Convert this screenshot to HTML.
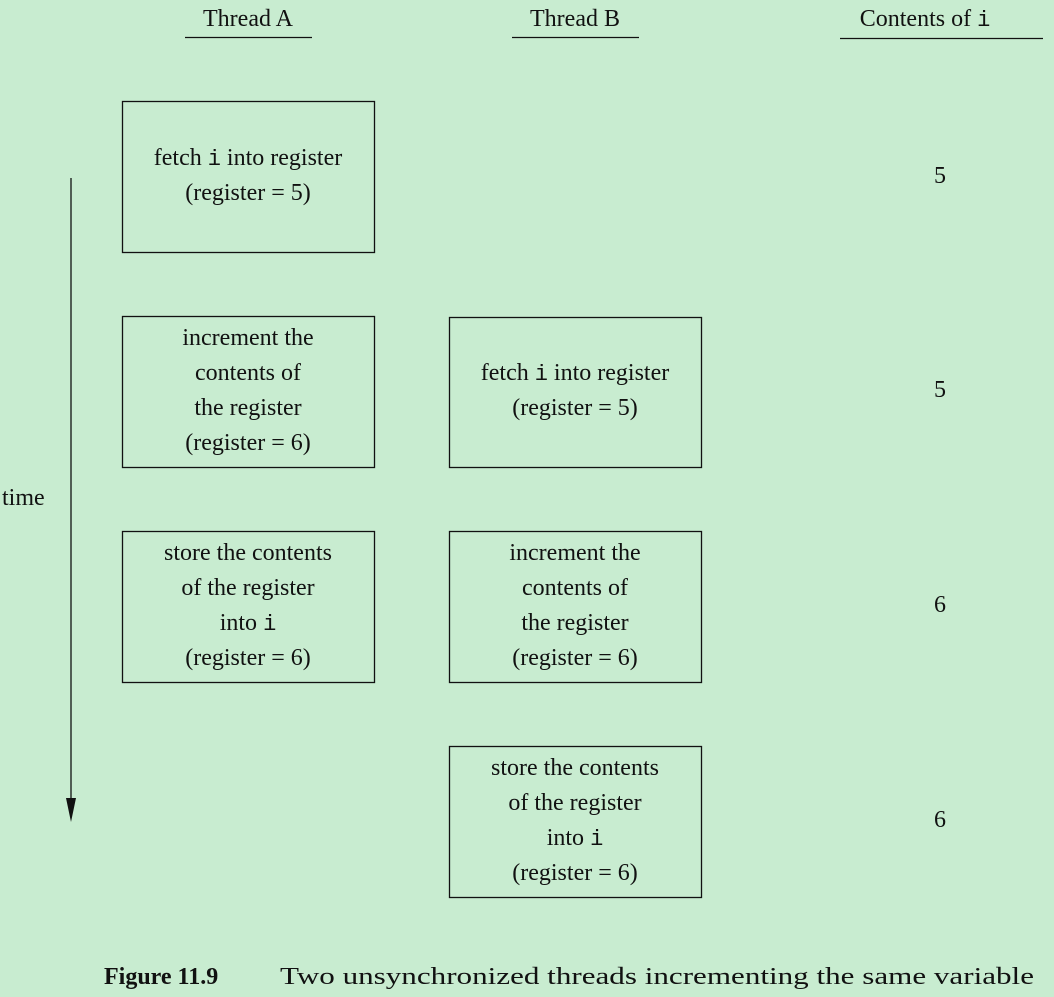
<!DOCTYPE html>
<html><head><meta charset="utf-8"><style>
html,body{margin:0;padding:0;background:#c8ecd0;}
svg{display:block;}
text{font-family:"Liberation Serif",serif;font-size:24px;fill:#111;}
.m{font-family:"Liberation Mono",monospace;font-size:22px;}
</style></head><body>
<svg width="1054" height="997" viewBox="0 0 1054 997" xmlns="http://www.w3.org/2000/svg">
<g text-anchor="middle">
<text x="248" y="26">Thread A</text>
<text x="575" y="26">Thread B</text>
<text x="925" y="26">Contents of <tspan class="m">i</tspan></text>
</g>
<g stroke="#111" stroke-width="1.3">
<line x1="185" y1="37.5" x2="312" y2="37.5"/>
<line x1="512" y1="37.5" x2="639" y2="37.5"/>
<line x1="840" y1="38.5" x2="1043" y2="38.5"/>
<line x1="71" y1="178" x2="71" y2="802"/>
</g>
<polygon points="66,798 76,798 71,822" fill="#111"/>
<g fill="none" stroke="#111" stroke-width="1.3">
<rect x="122.5" y="101.5" width="252" height="151"/>
<rect x="122.5" y="316.5" width="252" height="151"/>
<rect x="122.5" y="531.5" width="252" height="151"/>
<rect x="449.5" y="317.5" width="252" height="150"/>
<rect x="449.5" y="531.5" width="252" height="151"/>
<rect x="449.5" y="746.5" width="252" height="151"/>
</g>
<g text-anchor="middle">
<text x="248" y="165">fetch <tspan class="m">i</tspan> into register</text>
<text x="248" y="200">(register = 5)</text>
<text x="248" y="345">increment the</text>
<text x="248" y="380">contents of</text>
<text x="248" y="415">the register</text>
<text x="248" y="450">(register = 6)</text>
<text x="248" y="560">store the contents</text>
<text x="248" y="595">of the register</text>
<text x="248" y="630">into <tspan class="m">i</tspan></text>
<text x="248" y="665">(register = 6)</text>
<text x="575" y="380">fetch <tspan class="m">i</tspan> into register</text>
<text x="575" y="415">(register = 5)</text>
<text x="575" y="560">increment the</text>
<text x="575" y="595">contents of</text>
<text x="575" y="630">the register</text>
<text x="575" y="665">(register = 6)</text>
<text x="575" y="775">store the contents</text>
<text x="575" y="810">of the register</text>
<text x="575" y="845">into <tspan class="m">i</tspan></text>
<text x="575" y="880">(register = 6)</text>
<text x="940" y="183">5</text>
<text x="940" y="397">5</text>
<text x="940" y="612">6</text>
<text x="940" y="827">6</text>
</g>
<text x="2" y="505">time</text>
<text x="104" y="984" font-weight="bold">Figure 11.9</text>
<text x="280" y="984" textLength="754" lengthAdjust="spacingAndGlyphs">Two unsynchronized threads incrementing the same variable</text>
</svg>
</body></html>
